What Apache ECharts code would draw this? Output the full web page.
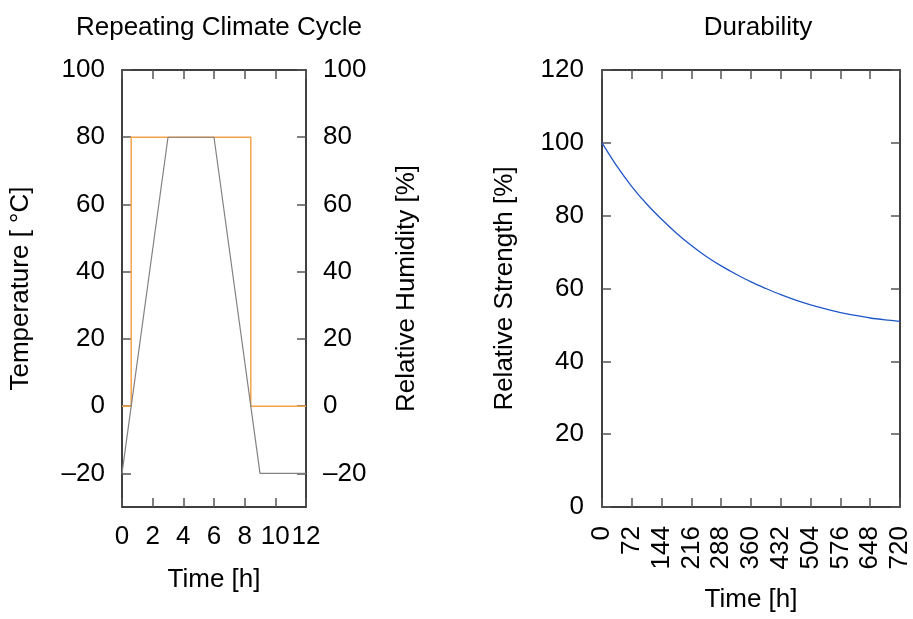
<!DOCTYPE html>
<html>
<head>
<meta charset="utf-8">
<script src="https://cdn.jsdelivr.net/npm/echarts@6/dist/echarts.min.js"></script>
<style>
html,body{margin:0;padding:0;background:#fff;}
#chart{width:913px;height:619px;}
</style>
</head>
<body>
<div id="chart"></div>
<script>
// ---- data ----
var cycleTicks = [0, 2, 4, 6, 8, 10, 12];
var climateTicks = [-20, 0, 20, 40, 60, 80, 100];
var temperature = [[0, -20], [3, 80], [6, 80], [9, -20], [12, -20]];
var humidity = [[0, 0], [0.6, 0], [0.6, 80], [8.4, 80], [8.4, 0], [12, 0]];
var durTime = [0, 36, 72, 108, 144, 180, 216, 252, 288, 324, 360, 396, 432, 468, 504, 540, 576, 612, 648, 684, 720];
var strength = [100, 93.6, 88.0, 83.2, 79.0, 75.2, 71.8, 68.8, 66.2, 63.9, 61.8, 60.0, 58.3, 56.8, 55.5, 54.4, 53.4, 52.6, 51.9, 51.4, 51.0];
var durTicks = [0, 72, 144, 216, 288, 360, 432, 504, 576, 648, 720];
var strengthTicks = [0, 20, 40, 60, 80, 100, 120];

var FONT = "'Liberation Sans', Arial, Helvetica, sans-serif";
var FS = 26;
var lineStyleFrame = {color: '#000', width: 1.5};
var tickStyle = {color: '#555', width: 1.5};
function fmt(v) { return String(v).replace('-', '\u2013'); }

function frameAxis(extra) {
  var base = {
    axisLine: {show: true, onZero: false, lineStyle: lineStyleFrame},
    axisTick: {show: true, inside: true, length: 9, lineStyle: tickStyle},
    axisLabel: {show: false},
    splitLine: {show: false},
    nameTextStyle: {fontFamily: FONT, fontSize: FS, color: '#000'}
  };
  for (var k in extra) {
    if (typeof extra[k] === 'object' && base[k] && !Array.isArray(extra[k])) {
      base[k] = Object.assign({}, base[k], extra[k]);
    } else base[k] = extra[k];
  }
  return base;
}
var labelStyle = {show: true, fontFamily: FONT, fontSize: FS, color: '#000', formatter: fmt};

var chart = echarts.init(document.getElementById('chart'), null, {renderer: 'canvas'});
chart.setOption({
  backgroundColor: '#fff',
  animation: false,
  title: [
    {text: 'Repeating Climate Cycle', left: 214, top: 10, textAlign: 'center',
     textStyle: {fontFamily: FONT, fontSize: FS, fontWeight: 'normal', color: '#000'}},
    {text: 'Durability', left: 753, top: 10, textAlign: 'center',
     textStyle: {fontFamily: FONT, fontSize: FS, fontWeight: 'normal', color: '#000'}}
  ],
  grid: [
    {left: 122, top: 70, width: 184, height: 437},
    {left: 602, top: 70, width: 301, height: 437}
  ],
  xAxis: [
    frameAxis({type: 'value', gridIndex: 0, position: 'bottom', min: 0, max: 12, interval: 2,
      axisLabel: Object.assign({}, labelStyle, {margin: 17, customValues: cycleTicks}),
      axisTick: {customValues: cycleTicks},
      name: 'Time [h]', nameLocation: 'middle', nameGap: 60}),
    frameAxis({type: 'value', gridIndex: 0, position: 'top', min: 0, max: 12, interval: 2,
      axisTick: {customValues: cycleTicks}}),
    frameAxis({type: 'value', gridIndex: 1, position: 'bottom', min: 0, max: 720, interval: 72,
      axisLabel: Object.assign({}, labelStyle, {rotate: 90, margin: 19, customValues: durTicks}),
      axisTick: {customValues: durTicks},
      name: 'Time [h]', nameLocation: 'middle', nameGap: 80}),
    frameAxis({type: 'value', gridIndex: 1, position: 'top', min: 0, max: 720, interval: 72,
      axisTick: {customValues: durTicks}})
  ],
  yAxis: [
    frameAxis({type: 'value', gridIndex: 0, position: 'left', min: -30, max: 100,
      axisLabel: Object.assign({}, labelStyle, {margin: 17, customValues: climateTicks}),
      axisTick: {customValues: climateTicks},
      name: 'Temperature [ \u00B0C]', nameLocation: 'middle', nameGap: 88}),
    frameAxis({type: 'value', gridIndex: 0, position: 'right', min: -30, max: 100,
      axisLabel: Object.assign({}, labelStyle, {margin: 17, customValues: climateTicks}),
      axisTick: {customValues: climateTicks},
      name: 'Relative Humidity [%]', nameLocation: 'middle', nameGap: 88}),
    frameAxis({type: 'value', gridIndex: 1, position: 'left', min: 0, max: 120, interval: 20,
      axisLabel: Object.assign({}, labelStyle, {margin: 18, customValues: strengthTicks}),
      axisTick: {customValues: strengthTicks},
      name: 'Relative Strength [%]', nameLocation: 'middle', nameGap: 84}),
    frameAxis({type: 'value', gridIndex: 1, position: 'right', min: 0, max: 120, interval: 20,
      axisTick: {customValues: strengthTicks}})
  ],
  series: [
    {type: 'line', name: 'Humidity', xAxisIndex: 0, yAxisIndex: 1, data: humidity,
     showSymbol: false, symbol: 'none', lineStyle: {color: '#f5a34a', width: 1.5}, z: 3},
    {type: 'line', name: 'Temperature', xAxisIndex: 0, yAxisIndex: 0, data: temperature,
     showSymbol: false, symbol: 'none', lineStyle: {color: '#858180', width: 1.2}, z: 4},
    {type: 'line', name: 'Strength', xAxisIndex: 2, yAxisIndex: 2,
     data: durTime.map(function (t, i) { return [t, strength[i]]; }),
     smooth: 0.3, showSymbol: false, symbol: 'none', lineStyle: {color: '#1f57c8', width: 1.3}}
  ]
});
</script>
</body>
</html>
